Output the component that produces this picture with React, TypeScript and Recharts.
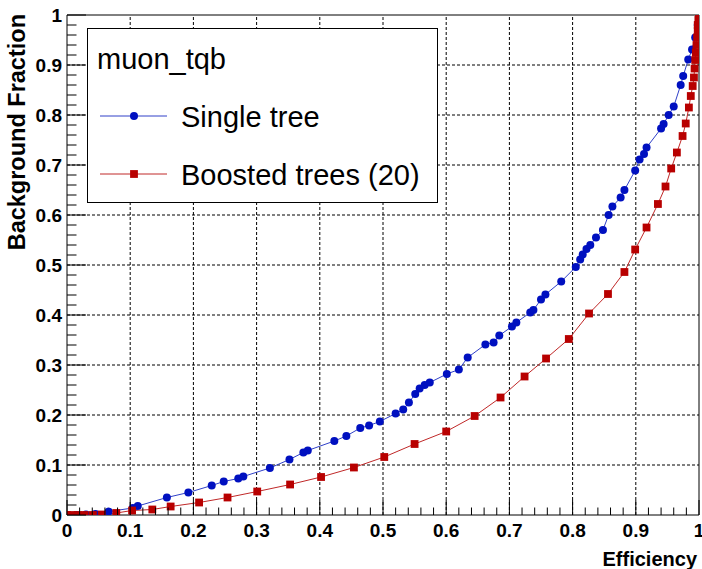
import React from 'react';
import { LineChart, Line, XAxis, YAxis, ReferenceLine, ReferenceArea, Legend } from 'recharts';

const singleTreeEff = [0.0, 0.015, 0.03, 0.045, 0.066, 0.104, 0.112, 0.158, 0.192, 0.229, 0.248, 0.271, 0.279, 0.321, 0.352, 0.374, 0.381, 0.423, 0.442, 0.464, 0.478, 0.495, 0.52, 0.532, 0.541, 0.551, 0.558, 0.566, 0.574, 0.601, 0.62, 0.634, 0.662, 0.675, 0.684, 0.704, 0.711, 0.733, 0.738, 0.75, 0.757, 0.782, 0.805, 0.812, 0.816, 0.822, 0.828, 0.837, 0.848, 0.857, 0.863, 0.876, 0.882, 0.899, 0.906, 0.913, 0.917, 0.94, 0.944, 0.952, 0.96, 0.971, 0.975, 0.983, 0.989, 0.994, 0.998, 1.0];
const singleTreeBkg = [0.0, 0.0, 0.001, 0.002, 0.007, 0.014, 0.018, 0.035, 0.045, 0.059, 0.067, 0.073, 0.077, 0.094, 0.111, 0.125, 0.129, 0.148, 0.158, 0.174, 0.179, 0.187, 0.203, 0.211, 0.225, 0.242, 0.253, 0.26, 0.265, 0.282, 0.291, 0.315, 0.341, 0.345, 0.359, 0.377, 0.385, 0.405, 0.41, 0.431, 0.441, 0.467, 0.496, 0.511, 0.521, 0.532, 0.54, 0.555, 0.57, 0.6, 0.617, 0.635, 0.65, 0.689, 0.711, 0.722, 0.735, 0.773, 0.782, 0.8, 0.817, 0.86, 0.878, 0.911, 0.931, 0.955, 0.98, 1.0];

const boostedEff = [0.0, 0.007, 0.017, 0.028, 0.041, 0.055, 0.078, 0.103, 0.135, 0.164, 0.209, 0.254, 0.301, 0.353, 0.402, 0.454, 0.502, 0.55, 0.6, 0.645, 0.686, 0.724, 0.758, 0.794, 0.826, 0.856, 0.882, 0.899, 0.917, 0.935, 0.947, 0.956, 0.965, 0.974, 0.979, 0.984, 0.987, 0.99, 0.992, 0.993, 0.994, 0.995, 0.996, 0.997, 0.998, 0.998, 0.999, 1.0];
const boostedBkg = [0.0, 0.0, 0.0, 0.0, 0.0, 0.001, 0.004, 0.009, 0.011, 0.017, 0.025, 0.035, 0.047, 0.061, 0.076, 0.095, 0.116, 0.142, 0.167, 0.198, 0.235, 0.277, 0.313, 0.352, 0.403, 0.442, 0.486, 0.531, 0.575, 0.622, 0.657, 0.693, 0.725, 0.758, 0.783, 0.815, 0.838, 0.858, 0.875, 0.893, 0.91, 0.925, 0.94, 0.955, 0.968, 0.98, 0.99, 1.0];

const majorTicks = [0, 0.1, 0.2, 0.3, 0.4, 0.5, 0.6, 0.7, 0.8, 0.9, 1];
const tickLabels = ['0', '0.1', '0.2', '0.3', '0.4', '0.5', '0.6', '0.7', '0.8', '0.9', '1'];
const gridValues = [0.1, 0.2, 0.3, 0.4, 0.5, 0.6, 0.7, 0.8, 0.9];
const allTicks = Array.from({ length: 51 }, (_, i) => i / 50);

const legendTitle = 'muon_tqb';
const seriesNames = ['Single tree', 'Boosted trees (20)'];

const singleData = singleTreeEff.map((x, i) => ({ x, y: singleTreeBkg[i] }));
const boostedData = boostedEff.map((x, i) => ({ x, y: boostedBkg[i] }));

const FONT = '"Liberation Sans", Arial, Helvetica, sans-serif';
const BLUE = '#0010c0';
const BLUE_LINE = '#3040c8';
const RED = '#b80000';
const RED_LINE = '#c02828';

const labelFor = (v: number) => {
  const idx = majorTicks.findIndex((m) => Math.abs(m - v) < 1e-6);
  return idx >= 0 ? tickLabels[idx] : null;
};

const XTick = (props: any) => {
  const { x, y, payload } = props;
  const lab = labelFor(payload.value);
  const len = lab !== null ? 15 : 7.5;
  return (
    <g>
      <line x1={x} y1={y} x2={x} y2={y - len} stroke="#000" strokeWidth={1} />
      {lab !== null && (
        <text x={x} y={y + 22} textAnchor="middle" fontFamily={FONT} fontWeight="bold" fontSize={19} fill="#000">
          {lab}
        </text>
      )}
    </g>
  );
};

const YTick = (props: any) => {
  const { x, y, payload } = props;
  const lab = labelFor(payload.value);
  const len = lab !== null ? 19 : 9.5;
  return (
    <g>
      <line x1={x} y1={y} x2={x + len} y2={y} stroke="#000" strokeWidth={1} />
      {lab !== null && (
        <text x={x - 5} y={y + 7} textAnchor="end" fontFamily={FONT} fontWeight="bold" fontSize={19} fill="#000">
          {lab}
        </text>
      )}
    </g>
  );
};

const SquareDot = (props: any) => {
  const { cx, cy, index } = props;
  if (cx == null || cy == null) return <g key={`s${index}`} />;
  return <rect key={`s${index}`} x={cx - 3.9} y={cy - 3.9} width={7.8} height={7.8} fill={RED} />;
};

const CircleDot = (props: any) => {
  const { cx, cy, index } = props;
  if (cx == null || cy == null) return <g key={`c${index}`} />;
  return <circle key={`c${index}`} cx={cx} cy={cy} r={4} fill={BLUE} />;
};

const LegendBox = (props: any) => {
  const payload = [...(props.payload || [])].sort(
    (a: any, b: any) => seriesNames.indexOf(a.value) - seriesNames.indexOf(b.value)
  );
  return (
    <div style={{ width: 351, height: 175, border: '1px solid #000', background: '#fff', boxSizing: 'border-box' }}>
      <svg width={349} height={173} style={{ display: 'block' }}>
        <text x={9} y={40} fontFamily={FONT} fontSize={29} fill="#000">{legendTitle}</text>
        {payload.map((p: any, i: number) => {
          const cy = 87 + i * 58;
          const isRed = p.value === seriesNames[1];
          return (
            <g key={i}>
              <line x1={12} y1={cy} x2={79} y2={cy} stroke={isRed ? RED_LINE : BLUE_LINE} strokeWidth={1} />
              {isRed ? (
                <rect x={46 - 3.9} y={cy - 3.9} width={7.8} height={7.8} fill={RED} />
              ) : (
                <circle cx={46} cy={cy} r={4} fill={BLUE} />
              )}
              <text x={93} y={cy + 11} fontFamily={FONT} fontSize={29} fill="#000">{p.value}</text>
            </g>
          );
        })}
      </svg>
    </div>
  );
};

export default function App() {
  return (
    <div style={{ position: 'absolute', left: 0, top: 0, width: 702, height: 569, background: '#fff' }}>
      <LineChart width={702} height={569} data={singleData} margin={{ top: 15, right: 3, bottom: 53, left: 66 }}>
        <XAxis
          dataKey="x"
          type="number"
          domain={[0, 1]}
          ticks={allTicks}
          interval={0}
          height={1}
          tickSize={0}
          tickMargin={0}
          tickLine={false}
          axisLine={false}
          tick={<XTick />}
          allowDataOverflow
        />
        <YAxis
          dataKey="y"
          type="number"
          domain={[0, 1]}
          ticks={allTicks}
          interval={0}
          width={1}
          tickSize={0}
          tickMargin={0}
          tickLine={false}
          axisLine={false}
          tick={<YTick />}
          allowDataOverflow
        />
        {gridValues.map((v) => (
          <ReferenceLine key={`gx${v}`} x={v} stroke="#000" strokeWidth={1} strokeDasharray="3 2" />
        ))}
        {gridValues.map((v) => (
          <ReferenceLine key={`gy${v}`} y={v} stroke="#000" strokeWidth={1} strokeDasharray="3 2" />
        ))}
        <ReferenceArea x1={0} x2={1} y1={0} y2={1} fill="none" fillOpacity={0} stroke="#000" strokeWidth={1} />
        <Line
          data={singleData}
          dataKey="y"
          name={seriesNames[0]}
          type="linear"
          stroke={BLUE_LINE}
          strokeWidth={1}
          dot={CircleDot}
          activeDot={false}
          isAnimationActive={false}
        />
        <Line
          data={boostedData}
          dataKey="y"
          name={seriesNames[1]}
          type="linear"
          stroke={RED_LINE}
          strokeWidth={1}
          dot={SquareDot}
          activeDot={false}
          isAnimationActive={false}
        />
        <Legend
          layout="vertical"
          align="center"
          verticalAlign="middle"
          content={<LegendBox />}
          wrapperStyle={{ position: 'absolute', left: 87, top: 28, width: 351, height: 175 }}
        />
      </LineChart>
      <div style={{ position: 'absolute', left: 0, top: 0, pointerEvents: 'none' }}>
        <svg width={702} height={569} style={{ display: 'block', overflow: 'visible' }}>
          <text x={697} y={566} textAnchor="end" fontFamily={FONT} fontWeight="bold" fontSize={20} fill="#000">
            Efficiency
          </text>
          <text
            transform="translate(25, 14) rotate(-90)"
            textAnchor="end"
            fontFamily={FONT}
            fontWeight="bold"
            fontSize={23.5}
            fill="#000"
          >
            Background Fraction
          </text>
        </svg>
      </div>
    </div>
  );
}
